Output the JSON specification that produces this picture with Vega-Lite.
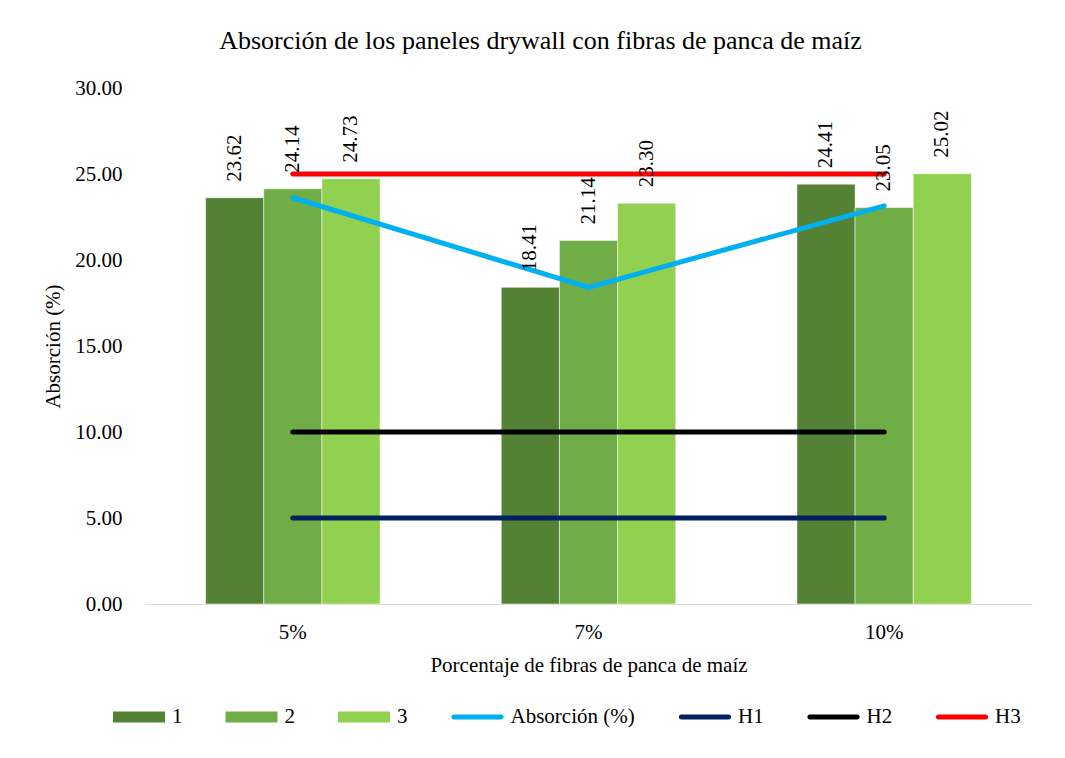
{
  "$schema": "https://vega.github.io/schema/vega-lite/v6.json",
  "autosize": {"type": "none"},
  "width": 887,
  "height": 516,
  "padding": {"left": 145, "top": 88, "right": 33, "bottom": 154},
  "background": "white",
  "config": {
    "font": "Liberation Serif",
    "view": {"stroke": null},
    "title": {"font": "Liberation Serif"},
    "text": {"font": "Liberation Serif"},
    "legend": {"labelFont": "Liberation Serif"},
    "axis": {"labelFont": "Liberation Serif", "titleFont": "Liberation Serif", "labelColor": "#000", "titleColor": "#000", "titleFontWeight": "normal", "grid": false, "ticks": false}
  },
  "title": {"text": "Absorción de los paneles drywall con fibras de panca de maíz", "font": "Liberation Serif", "fontSize": 26, "fontWeight": "normal", "color": "#000", "offset": 23, "dx": -48},
  "datasets": {
    "bars": [
      {"cat": "5%", "serie": "1", "value": 23.62},
      {"cat": "5%", "serie": "2", "value": 24.14},
      {"cat": "5%", "serie": "3", "value": 24.73},
      {"cat": "7%", "serie": "1", "value": 18.41},
      {"cat": "7%", "serie": "2", "value": 21.14},
      {"cat": "7%", "serie": "3", "value": 23.30},
      {"cat": "10%", "serie": "1", "value": 24.41},
      {"cat": "10%", "serie": "2", "value": 23.05},
      {"cat": "10%", "serie": "3", "value": 25.02}
    ],
    "lines": [
      {"cat": "5%", "serie": "Absorción (%)", "value": 23.62},
      {"cat": "7%", "serie": "Absorción (%)", "value": 18.41},
      {"cat": "10%", "serie": "Absorción (%)", "value": 23.15},
      {"cat": "5%", "serie": "H1", "value": 5},
      {"cat": "7%", "serie": "H1", "value": 5},
      {"cat": "10%", "serie": "H1", "value": 5},
      {"cat": "5%", "serie": "H2", "value": 10},
      {"cat": "7%", "serie": "H2", "value": 10},
      {"cat": "10%", "serie": "H2", "value": 10},
      {"cat": "5%", "serie": "H3", "value": 25},
      {"cat": "7%", "serie": "H3", "value": 25},
      {"cat": "10%", "serie": "H3", "value": 25}
    ]
  },
  "encoding": {
    "x": {
      "field": "cat", "type": "nominal", "sort": ["5%", "7%", "10%"],
      "scale": {"paddingInner": 0.41, "paddingOuter": 0.205},
      "axis": {"title": "Porcentaje de fibras de panca de maíz", "labelAngle": 0, "labelFontSize": 21, "titleFontSize": 21, "labelPadding": 17, "titlePadding": 12, "domainColor": "#D9D9D9", "domainWidth": 1}
    },
    "y": {
      "field": "value", "type": "quantitative",
      "scale": {"domain": [0, 30], "nice": false},
      "axis": {"title": "Absorción (%)", "format": ".2f", "values": [0, 5, 10, 15, 20, 25, 30], "domain": false, "labelFontSize": 21, "titleFontSize": 21, "labelPadding": 23, "titlePadding": 11}
    },
    "color": {
      "field": "serie", "type": "nominal",
      "scale": {
        "domain": ["1", "2", "3", "Absorción (%)", "H1", "H2", "H3"],
        "range": ["#548235", "#70AD47", "#92D050", "#00B0F0", "#002060", "#000000", "#FF0000"]
      },
      "legend": {
        "title": null,
        "orient": "none",
        "direction": "horizontal",
        "legendX": -32,
        "legendY": 603,
        "columnPadding": 42.5,
        "labelFont": "Liberation Serif",
        "labelFontSize": 21,
        "labelColor": "#000",
        "labelOffset": 7,
        "symbolSize": 2704,
        "symbolOpacity": 1,
        "encode": {
          "symbols": {
            "update": {
              "shape": {"signal": "indexof(['1','2','3'], datum.value) >= 0 ? 'M-1,-0.21L1,-0.21L1,0.21L-1,0.21Z' : 'M-0.91,-0.095L0.91,-0.095A0.095,0.095 0 0 1 0.91,0.095L-0.91,0.095A0.095,0.095 0 0 1 -0.91,-0.095Z'"},
              "fill": {"signal": "scale('color', datum.value)"},
              "stroke": {"value": "transparent"},
              "strokeWidth": {"value": 0},
              "opacity": {"value": 1}
            }
          }
        }
      }
    }
  },
  "layer": [
    {
      "data": {"name": "bars"},
      "mark": {"type": "bar", "stroke": "white", "strokeWidth": 0.5},
      "encoding": {"xOffset": {"field": "serie", "type": "nominal", "sort": ["1", "2", "3"], "scale": {"paddingInner": 0, "paddingOuter": 0}}}
    },
    {
      "data": {"name": "lines"},
      "mark": {"type": "line", "strokeWidth": 5, "strokeCap": "round", "strokeJoin": "miter"},
      "encoding": {"detail": {"field": "serie"}}
    },
    {
      "data": {"name": "bars"},
      "mark": {"type": "text", "angle": 270, "align": "left", "baseline": "middle", "dx": 16, "fontSize": 21, "font": "Liberation Serif", "color": "#000"},
      "encoding": {
        "xOffset": {"field": "serie", "type": "nominal", "sort": ["1", "2", "3"]},
        "text": {"field": "value", "type": "quantitative", "format": ".2f"},
        "color": {"value": "#000"}
      }
    }
  ]
}
